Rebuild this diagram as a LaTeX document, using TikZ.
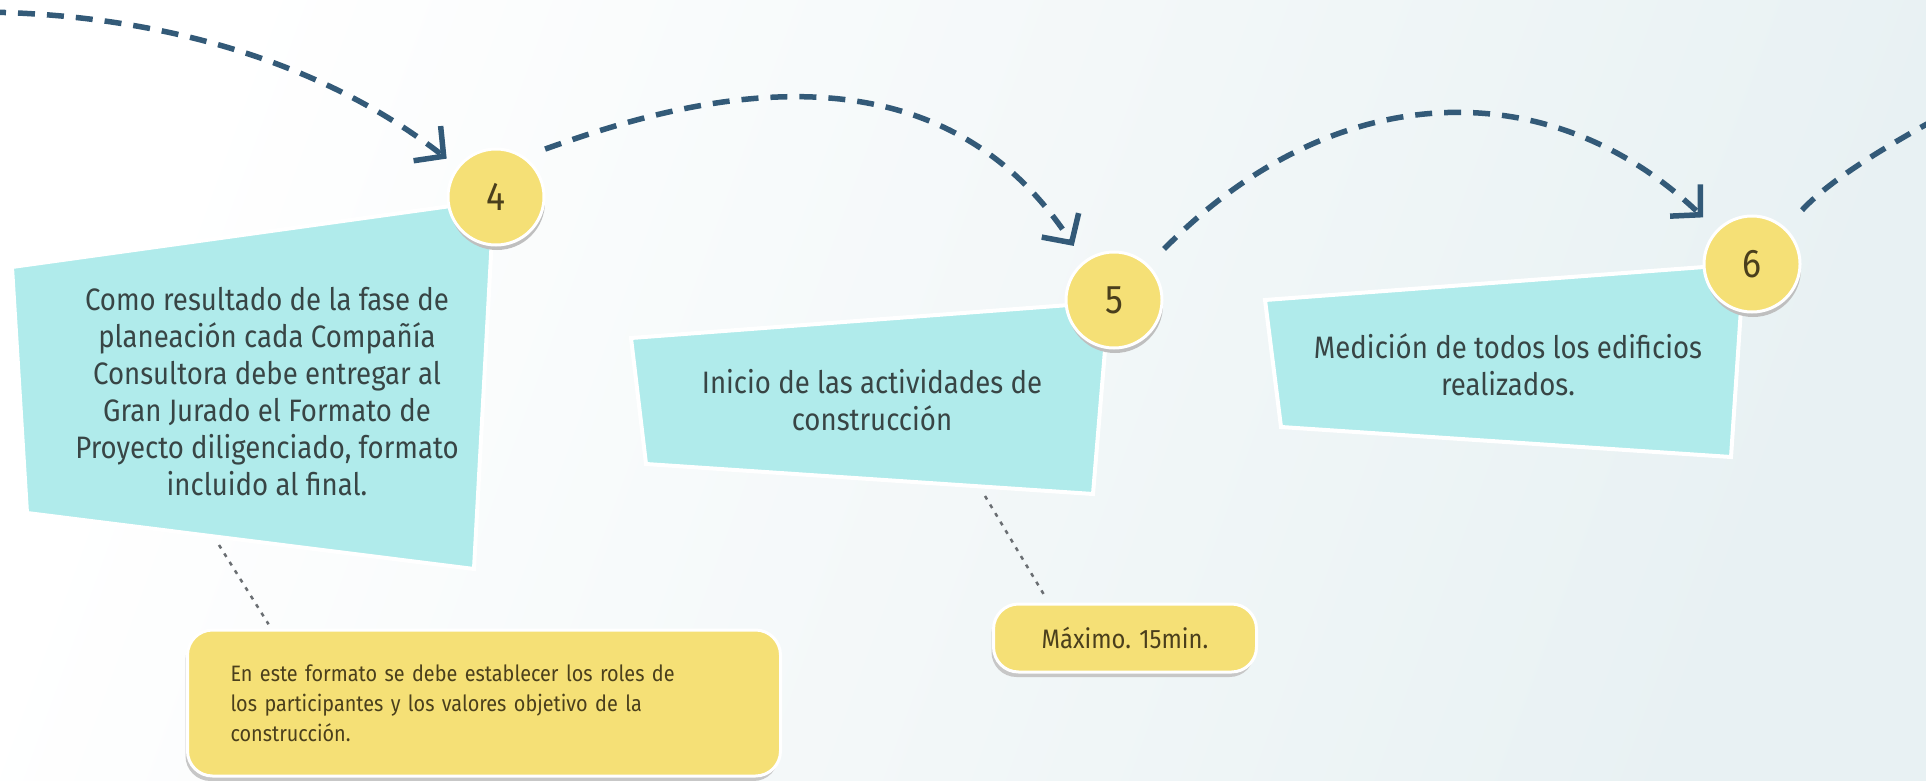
\documentclass[tikz,border=0pt]{standalone}
\usepackage{fontspec}
\setmainfont{Fira Sans}[FakeStretch=0.89]
\usetikzlibrary{arrows.meta,shadows,calc}

\definecolor{pathblue}{HTML}{335A78}
\definecolor{cardcyan}{HTML}{B0EBEB}
\definecolor{noteyellow}{HTML}{F5E076}
\definecolor{cardtext}{HTML}{384545}
\definecolor{notetext}{HTML}{4A3F1C}
\definecolor{bgblue}{HTML}{E8F1F3}
\definecolor{linkgrey}{HTML}{6A6E72}

\begin{document}
\begin{tikzpicture}[x=1pt, y=-1pt,
    flow/.style={pathblue, line width=5.5pt, dash pattern=on 17pt off 12pt,
        -{Straight Barb[length=21pt, width=44pt]}},
    card/.style={fill=cardcyan, draw=white, line width=4pt},
    cardlabel/.style={text=cardtext, align=center, font=\fontsize{31}{37}\selectfont},
    num/.style={circle, minimum size=96pt, inner sep=0pt, fill=noteyellow, draw=white, line width=3pt,
        drop shadow={shadow xshift=1pt, shadow yshift=-5pt, fill=black!25, opacity=1},
        text=notetext, font=\fontsize{40}{40}\selectfont},
    note/.style={rectangle, rounded corners=25pt, fill=noteyellow, draw=white, line width=3pt,
        drop shadow={shadow xshift=-2pt, shadow yshift=-5pt, fill=black!22, opacity=1},
        text=notetext, font=\fontsize{22.3}{30}\selectfont},
    link/.style={linkgrey, line width=2.5pt, dash pattern=on 4pt off 6pt}]

    \useasboundingbox (0,0) rectangle (1926,781);
    \clip (0,0) rectangle (1926,781);

    % background
    \shade[left color=white, right color=bgblue, shading angle=70] (0,0) rectangle (1926,781);

    % cards
    \filldraw[card] (12,267) -- (494,200) -- (474,569) -- (27,513) -- cycle;
    \filldraw[card] (631,338) -- (1109,302) -- (1093,494) -- (646,464) -- cycle;
    \filldraw[card] (1265,300) -- (1744,264) -- (1731,457) -- (1281,427) -- cycle;

    \node[cardlabel] (t4) at (267,392) {Como resultado de la fase de\\planeación cada Compañía\\Consultora debe entregar al\\Gran Jurado el Formato de\\Proyecto diligenciado, formato\\incluido al final.};
    \node[cardlabel] (t5) at (872,400) {Inicio de las actividades de\\construcción};
    \node[cardlabel] (t6) at (1508,365) {Medición de todos los edificios\\realizados.};

    % step numbers
    \node[num] (c4) at (496,197) {4};
    \node[num] (c5) at (1114,300) {5};
    \node[num] (c6) at (1752,264) {6};

    % path between steps
    \coordinate (from3) at (-40,12);
    \coordinate (to7) at (2030,70);
    \draw[flow, shorten >=13pt] (from3) .. controls (150,10) and (320,60) .. (c4);
    \draw[flow, shorten <=22pt, shorten >=18pt] (c4.55) .. controls (666,106) and (928,22) .. (c5.128);
    \draw[flow, shorten <=22pt, shorten >=18pt] (c5) .. controls (1334,76) and (1550,71) .. (c6);
    \draw[flow, -, shorten <=24pt] (c6) .. controls (1830,180) and (1890,140) .. (to7);

    % notes
    \node[note, minimum width=593pt, minimum height=146pt, text width=507pt, inner xsep=43pt, align=left]
        (n4) at (484,703) {En este formato se debe establecer los roles de\\los participantes y los valores objetivo de la\\construcción.};
    \node[note, minimum width=263pt, minimum height=68pt, font=\fontsize{26.7}{30}\selectfont]
        (n5) at (1125,638) {Máximo. 15min.};

    % links
    \coordinate (foot4) at (219,545);
    \coordinate (foot5) at (985,496);
    \draw[link, shorten >=5pt] (foot4) -- ($(n4.north west)!0.143!(n4.north east)$);
    \draw[link, shorten >=6pt] (foot5) -- ($(n5.north west)!0.213!(n5.north east)$);

\end{tikzpicture}
\end{document}
